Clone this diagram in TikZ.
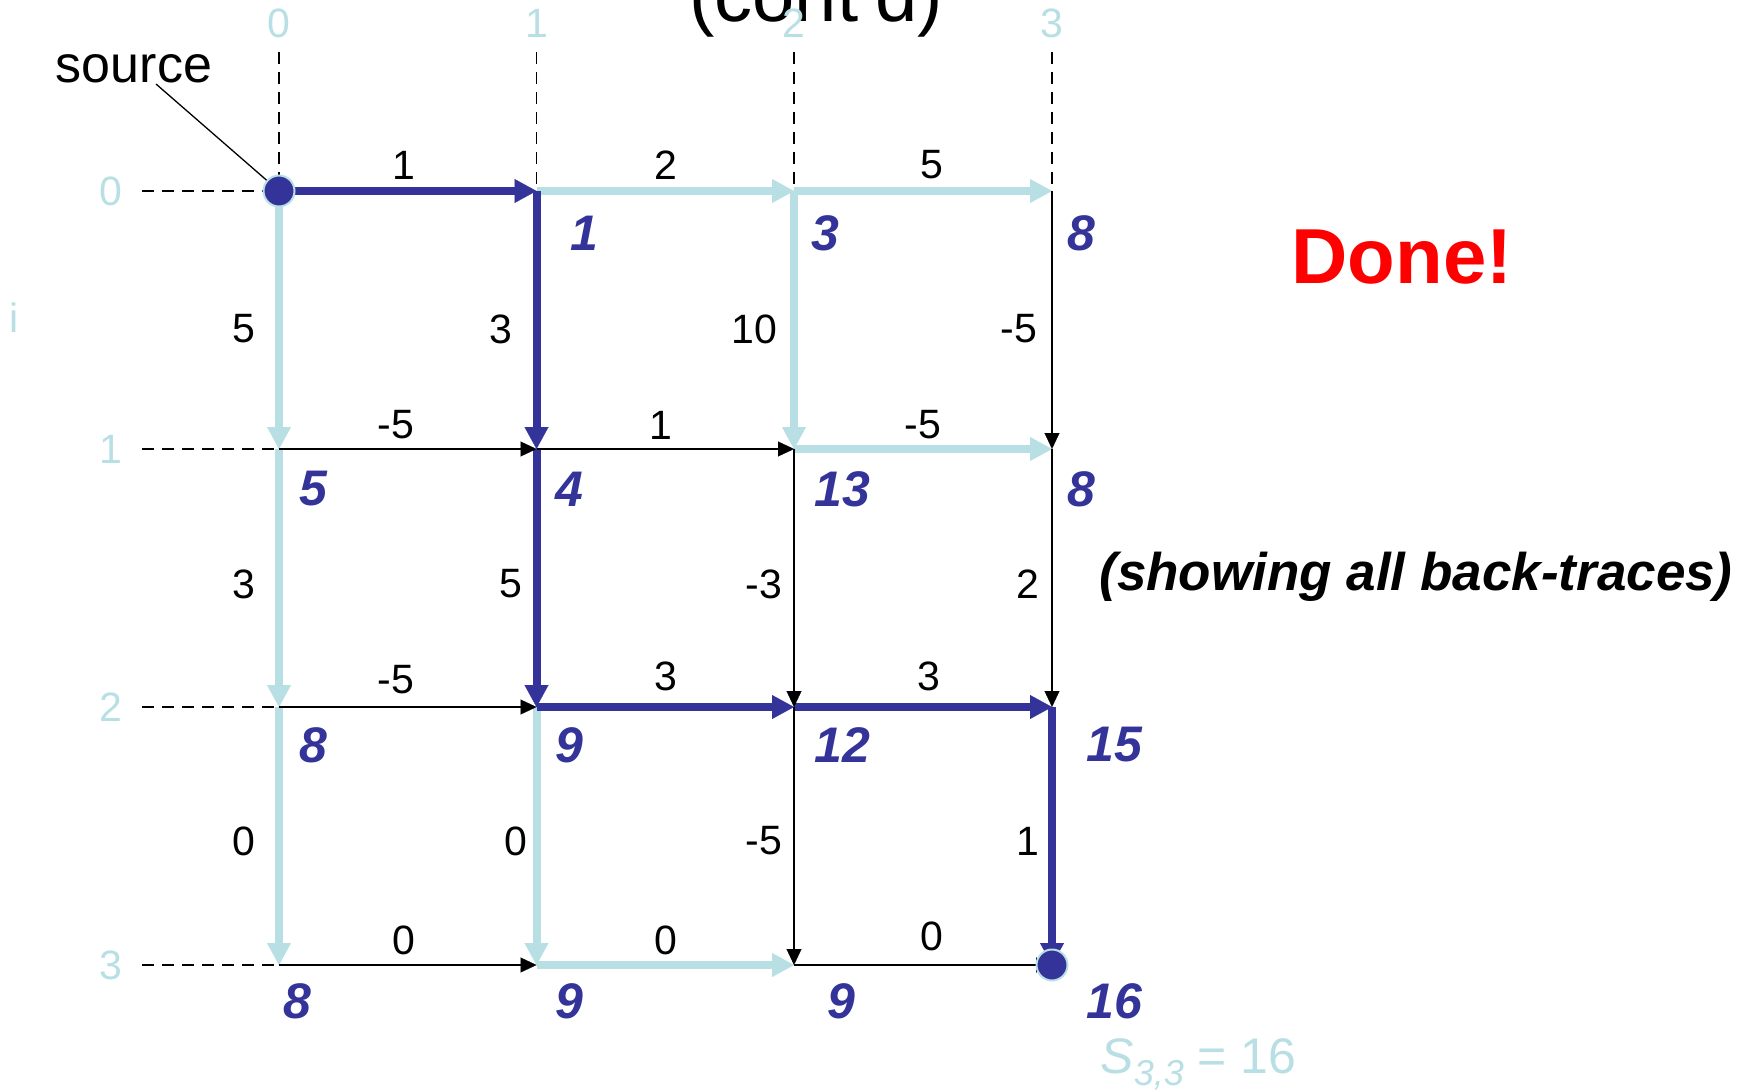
\documentclass[tikz,border=0pt]{standalone}
\usepackage{fontspec}
\setmainfont{Liberation Sans}
\usetikzlibrary{arrows.meta}
\definecolor{dblue}{RGB}{51,51,153}
\definecolor{lblue}{RGB}{184,224,228}
\definecolor{dred}{RGB}{255,0,0}
\begin{document}
\begin{tikzpicture}[x=0.5pt,y=-0.5pt,
  wt/.style={font=\fontsize{20.5pt}{20.5pt}\selectfont, inner sep=0pt, text=black},
  axl/.style={font=\fontsize{20.5pt}{20.5pt}\selectfont, inner sep=0pt, text=lblue},
  sc/.style={font=\fontsize{25pt}{25pt}\selectfont\bfseries\itshape, inner sep=0pt, text=dblue},
  best/.style={draw=dblue, line width=4pt, -{Triangle[length=11pt,width=12pt,line width=0.1pt]}},
  alt/.style={draw=lblue, line width=4pt, -{Triangle[length=11pt,width=12pt,line width=0.1pt]}},
  plain/.style={draw=black, line width=1pt, -{Triangle[length=8pt,width=7.5pt,line width=0.1pt]}},
  guide/.style={draw=black, line width=0.8pt, dash pattern=on 6pt off 4pt},
  dotnode/.style={circle, fill=dblue, draw=lblue, line width=1pt, minimum size=15.5pt, inner sep=0pt},
]
\useasboundingbox (0,0) rectangle (1748,1091);
\clip (0,0) rectangle (1748,1091);

% grid points
\foreach \r/\yy in {0/191,1/449,2/707,3/965}{
  \foreach \c/\xx in {0/279,1/536.5,2/794,3/1052}{
    \coordinate (n\r\c) at (\xx,\yy);
  }
}

% title (cut off)
\node[inner sep=0pt, anchor=base, font=\fontsize{38pt}{38pt}\selectfont] (title) at (816,22) {(cont'd)};

% axis labels and guides
\foreach \c/\xx in {0/279,1/536.5,2/794,3/1052}{
  \node[axl, anchor=base] (cl\c) at (\xx,38) {\c};
  \coordinate (ct\c) at (\xx,52);
  \draw[guide] (ct\c) -- (n0\c);
}
\foreach \r/\yy in {0/191,1/449,2/707,3/965}{
  \node[axl] (rlab\r) at (111,\yy) {\r};
  \coordinate (rl\r) at (142,\yy);
  \draw[guide] (rl\r) -- (n\r0);
}
\node[axl, anchor=base] (ilab) at (14,332) {i};

% light blue back-trace edges
\draw[alt] (n01) -- (n02);
\draw[alt] (n02) -- (n03);
\draw[alt] (n12) -- (n13);
\draw[alt] (n31) -- (n32);
\draw[alt] (n00) -- (n10);
\draw[alt] (n10) -- (n20);
\draw[alt] (n20) -- (n30);
\draw[alt] (n21) -- (n31);
\draw[alt] (n02) -- (n12);

% dark blue best path
\draw[best] (n00) -- (n01);
\draw[best] (n01) -- (n11);
\draw[best] (n11) -- (n21);
\draw[best] (n21) -- (n22);
\draw[best] (n22) -- (n23);
\draw[best] (n23) -- (n33);

% plain edges
\draw[plain] (n10) -- (n11);
\draw[plain] (n11) -- (n12);
\draw[plain] (n20) -- (n21);
\draw[plain] (n30) -- (n31);
\draw[plain] (n32) -- (n33);
\draw[plain] (n12) -- (n22);
\draw[plain] (n22) -- (n32);
\draw[plain] (n03) -- (n13);
\draw[plain] (n13) -- (n23);

% source / sink dots
\node[dotnode] (src) at (n00) {};
\node[dotnode] (snk) at (n33) {};
\node[inner sep=0pt, anchor=base, font=\fontsize{26pt}{26pt}\selectfont] (srclbl) at (134,83) {source};
\coordinate (lead) at (156,84);
\draw[line width=0.65pt] (lead) -- (src);

% weights, horizontal
\node[wt] (h00) at (404,165) {1};
\node[wt] (h01) at (666,165) {2};
\node[wt] (h02) at (932,165) {5};
\node[wt] (h10) at (396,425) {-5};
\node[wt] (h11) at (661,425) {1};
\node[wt] (h12) at (923,425) {-5};
\node[wt] (h20) at (396,680) {-5};
\node[wt] (h21) at (666,676) {3};
\node[wt] (h22) at (929,676) {3};
\node[wt] (h30) at (404,940) {0};
\node[wt] (h31) at (666,940) {0};
\node[wt] (h32) at (932,936) {0};
% weights, vertical
\node[wt] (v00) at (244,329) {5};
\node[wt] (v10) at (244,584) {3};
\node[wt] (v20) at (244,841) {0};
\node[wt] (v01) at (501,329) {3};
\node[wt] (v11) at (511,584) {5};
\node[wt] (v21) at (516,841) {0};
\node[wt] (v02) at (754,329) {10};
\node[wt] (v12) at (764,584) {-3};
\node[wt] (v22) at (764,841) {-5};
\node[wt] (v03) at (1019,329) {-5};
\node[wt] (v13) at (1028,584) {2};
\node[wt] (v23) at (1028,841) {1};

% scores
\node[sc] (s01) at (584,233) {1};
\node[sc] (s02) at (825,233) {3};
\node[sc] (s03) at (1081,233) {8};
\node[sc] (s10) at (313,489) {5};
\node[sc] (s11) at (569,489) {4};
\node[sc] (s12) at (842,489) {13};
\node[sc] (s13) at (1081,489) {8};
\node[sc] (s20) at (313,745) {8};
\node[sc] (s21) at (569,745) {9};
\node[sc] (s22) at (842,745) {12};
\node[sc] (s23) at (1114,745) {15};
\node[sc] (s30) at (297,1001) {8};
\node[sc] (s31) at (569,1001) {9};
\node[sc] (s32) at (841,1001) {9};
\node[sc] (s33) at (1114,1001) {16};

% side texts
\node[inner sep=0pt, anchor=base, text=dred, font=\fontsize{39pt}{39pt}\selectfont\bfseries] (done) at (1402,283) {Done!};
\node[inner sep=0pt, anchor=base, font=\fontsize{26.5pt}{26.5pt}\selectfont\bfseries\itshape] (note) at (1416,590) {(showing all back-traces)};
\node[inner sep=0pt, anchor=base west, text=lblue, font=\fontsize{25pt}{25pt}\selectfont] (sval) at (1100,1073) {\itshape S\raisebox{-6pt}{\fontsize{18pt}{18pt}\selectfont 3,3}\upshape{} = 16};
\end{tikzpicture}
\end{document}
